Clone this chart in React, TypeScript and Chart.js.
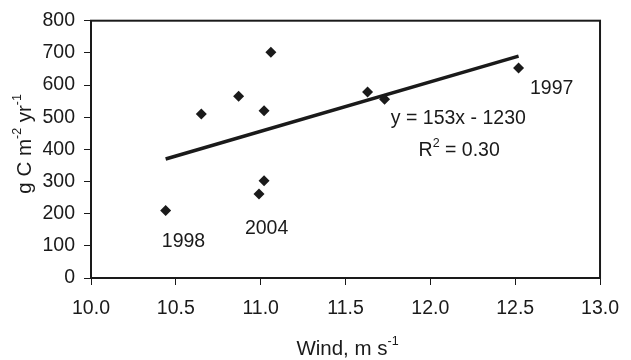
import React, { useEffect, useRef } from "react";
import { Chart, registerables } from "chart.js";

Chart.register(...registerables);

// Data
const windSpeed = [10.44, 10.65, 10.87, 11.06, 11.02, 11.02, 10.99, 11.63, 11.73, 12.52];
const carbonUptake = [210, 510, 565, 702, 520, 302, 261, 578, 556, 653];
const trendWind = [10.44, 12.52];
const trendCarbon = [370, 690];

const xMin = 10.0;
const xMax = 13.0;
const xStep = 0.5;
const yMin = 0;
const yMax = 800;
const yStep = 100;

const yearLabels = ["1998", "2004", "1997"];
const yearLabelWind = [10.545, 11.035, 12.715];
const yearLabelCarbon = [112, 152, 589];

const equationText = "y = 153x - 1230";
const equationWind = 12.165;
const equationCarbon = 496;
const r2Base = "R";
const r2Sup = "2";
const r2Rest = " = 0.30";
const r2Wind = 12.17;
const r2Carbon = 397;

const yTitle = [
  { t: "g C m", sup: false },
  { t: "-2", sup: true },
  { t: " yr", sup: false },
  { t: "-1", sup: true },
];
const xTitle = [
  { t: "Wind, m s", sup: false },
  { t: "-1", sup: true },
];

const FONT = "'Liberation Sans', Arial, sans-serif";
const INK = "#1a1a1a";
const MAIN_SIZE = 19.5;
const SUP_SIZE = 12.5;

type Seg = { t: string; sup: boolean };

function segWidth(ctx: CanvasRenderingContext2D, segs: Seg[], size: number) {
  let w = 0;
  for (const s of segs) {
    ctx.font = `${s.sup ? SUP_SIZE : size}px ${FONT}`;
    w += ctx.measureText(s.t).width;
  }
  return w;
}

function drawRich(ctx: CanvasRenderingContext2D, segs: Seg[], cx: number, cy: number, rot: number, size: number) {
  ctx.save();
  ctx.translate(cx, cy);
  ctx.rotate(rot);
  ctx.fillStyle = INK;
  ctx.textBaseline = "middle";
  ctx.textAlign = "left";
  const w = segWidth(ctx, segs, size);
  let x = -w / 2;
  for (const s of segs) {
    ctx.font = `${s.sup ? SUP_SIZE : size}px ${FONT}`;
    ctx.fillText(s.t, x, s.sup ? -7 : 0);
    x += ctx.measureText(s.t).width;
  }
  ctx.restore();
}

const decorPlugin = {
  id: "decor",
  afterDraw(chart: any) {
    const { ctx, chartArea, scales } = chart;
    const xs = scales.x;
    const ys = scales.y;
    ctx.save();
    // frame
    ctx.strokeStyle = INK;
    ctx.lineWidth = 2;
    ctx.strokeRect(chartArea.left, chartArea.top, chartArea.right - chartArea.left, chartArea.bottom - chartArea.top);
    // year labels and equation
    ctx.fillStyle = INK;
    ctx.font = `${MAIN_SIZE}px ${FONT}`;
    ctx.textAlign = "center";
    ctx.textBaseline = "middle";
    yearLabels.forEach((lab, i) => {
      ctx.fillText(lab, xs.getPixelForValue(yearLabelWind[i]), ys.getPixelForValue(yearLabelCarbon[i]));
    });
    ctx.fillText(equationText, xs.getPixelForValue(equationWind), ys.getPixelForValue(equationCarbon));
    ctx.restore();
    drawRich(
      ctx,
      [
        { t: r2Base, sup: false },
        { t: r2Sup, sup: true },
        { t: r2Rest, sup: false },
      ],
      xs.getPixelForValue(r2Wind),
      ys.getPixelForValue(r2Carbon),
      0,
      MAIN_SIZE
    );
    // axis titles
    drawRich(ctx, yTitle, 25, (chartArea.top + chartArea.bottom) / 2 - 5.5, -Math.PI / 2, 20.5);
    drawRich(ctx, xTitle, (chartArea.left + chartArea.right) / 2 + 2, 349, 0, 20.5);
  },
};

export default function App() {
  const ref = useRef<HTMLCanvasElement | null>(null);
  useEffect(() => {
    if (!ref.current) return;
    const chart = new Chart(ref.current, {
      type: "scatter",
      data: {
        datasets: [
          {
            type: "scatter",
            data: windSpeed.map((w, i) => ({ x: w, y: carbonUptake[i] })),
            pointStyle: "rectRot",
            pointRadius: 5.5,
            pointHoverRadius: 5.5,
            backgroundColor: INK,
            borderColor: INK,
            borderWidth: 0,
            order: 1,
          },
          {
            type: "line",
            data: trendWind.map((w, i) => ({ x: w, y: trendCarbon[i] })),
            borderColor: INK,
            borderWidth: 3.5,
            pointRadius: 0,
            fill: false,
            order: 2,
          } as any,
        ],
      },
      options: {
        animation: false,
        responsive: false,
        devicePixelRatio: 1,
        layout: { padding: { top: 20, right: 30, left: 0, bottom: 0 } },
        plugins: { legend: { display: false }, tooltip: { enabled: false } },
        scales: {
          x: {
            type: "linear",
            min: xMin,
            max: xMax,
            ticks: {
              stepSize: xStep,
              color: INK,
              font: { family: FONT, size: MAIN_SIZE },
              padding: 12,
              maxRotation: 0,
              callback: (v: any) => Number(v).toFixed(1),
            },
            grid: { drawOnChartArea: false, color: INK, tickLength: 7, lineWidth: 1 },
            border: { color: INK, width: 2 },
            afterFit: (s: any) => {
              s.height = 82;
            },
          },
          y: {
            type: "linear",
            min: yMin,
            max: yMax,
            ticks: {
              stepSize: yStep,
              color: INK,
              font: { family: FONT, size: MAIN_SIZE },
              padding: 9,
            },
            grid: { drawOnChartArea: false, color: INK, tickLength: 7, lineWidth: 1 },
            border: { color: INK, width: 2 },
            afterFit: (s: any) => {
              s.width = 91;
            },
          },
        },
      },
      plugins: [decorPlugin],
    });
    return () => chart.destroy();
  }, []);
  return (
    <div style={{ position: "absolute", left: 0, top: 0, width: 631, height: 360, background: "#fff" }}>
      <canvas ref={ref} width={631} height={360} style={{ width: 631, height: 360 }} />
    </div>
  );
}
